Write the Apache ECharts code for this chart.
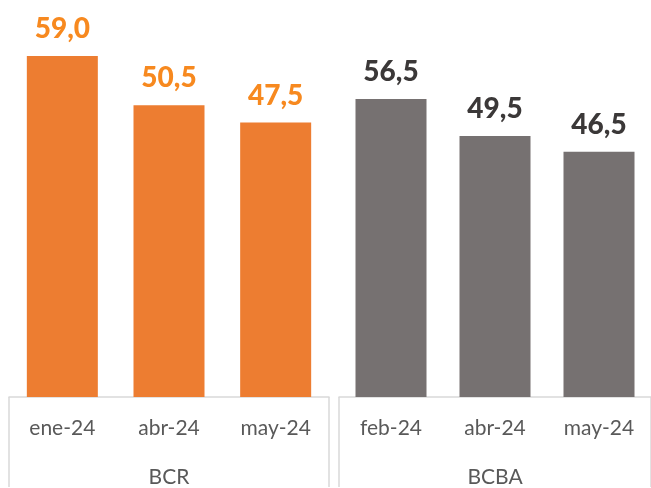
<!DOCTYPE html>
<html>
<head>
<meta charset="utf-8">
<script src="https://cdn.jsdelivr.net/npm/echarts@6/dist/echarts.min.js"></script>
<style>
  html, body { margin: 0; padding: 0; background: #fff; }
  #chart { width: 651px; height: 488px; }
</style>
</head>
<body>
<div id="chart"></div>
<script>
// data
var bcrMonths = ['ene-24', 'abr-24', 'may-24'];
var bcrValues = [59.0, 50.5, 47.5];
var bcbaMonths = ['feb-24', 'abr-24', 'may-24'];
var bcbaValues = [56.5, 49.5, 46.5];
var groups = ['BCR', 'BCBA'];

var FONT = 'Lato';
var boxColor = '#d9d9d9';

function fmt(p) {
	return p.value.toFixed(1).replace('.', ',');
}

function monthAxis(grid, cats) {
	return {
		type : 'category',
		gridIndex : grid,
		data : cats,
		position : 'bottom',
		axisLine : { show : false },
		axisTick : { show : false },
		axisLabel : {
			margin : 21,
			color : '#595959',
			fontFamily : FONT,
			fontSize : 21
		}
	};
}

function groupAxis(grid, name) {
	return {
		type : 'category',
		gridIndex : grid,
		data : [ name ],
		position : 'bottom',
		axisLine : { show : true, lineStyle : { color : boxColor, width : 1.5 } },
		axisTick : { show : true, length : 90, lineStyle : { color : boxColor, width : 1.5 } },
		axisLabel : {
			margin : 70,
			color : '#595959',
			fontFamily : FONT,
			fontSize : 21
		}
	};
}

var chart = echarts.init(document.getElementById('chart'));

var option = {
	animation : false,
	grid : [
		{ left : 9, width : 320, top : 0, bottom : 89 },
		{ left : 339, width : 320, top : 0, bottom : 89 }
	],
	xAxis : [
		monthAxis(0, bcrMonths),
		groupAxis(0, groups[0]),
		monthAxis(1, bcbaMonths),
		groupAxis(1, groups[1])
	],
	yAxis : [
		{ type : 'value', gridIndex : 0, min : 0, max : 68.7, show : false },
		{ type : 'value', gridIndex : 1, min : 0, max : 75.3, show : false }
	],
	series : [ {
		type : 'bar',
		xAxisIndex : 0,
		yAxisIndex : 0,
		data : bcrValues,
		barWidth : 71,
		itemStyle : { color : '#ed7d31' },
		label : {
			show : true,
			position : 'top',
			distance : 13,
			formatter : fmt,
			color : '#f7891f',
			fontFamily : FONT,
			fontWeight : 900,
			fontSize : 28
		}
	}, {
		type : 'bar',
		xAxisIndex : 2,
		yAxisIndex : 1,
		data : bcbaValues,
		barWidth : 71,
		itemStyle : { color : '#767171' },
		label : {
			show : true,
			position : 'top',
			distance : 13,
			formatter : fmt,
			color : '#3b3838',
			fontFamily : FONT,
			fontWeight : 900,
			fontSize : 28
		}
	} ]
};

chart.setOption(option);
</script>
</body>
</html>
